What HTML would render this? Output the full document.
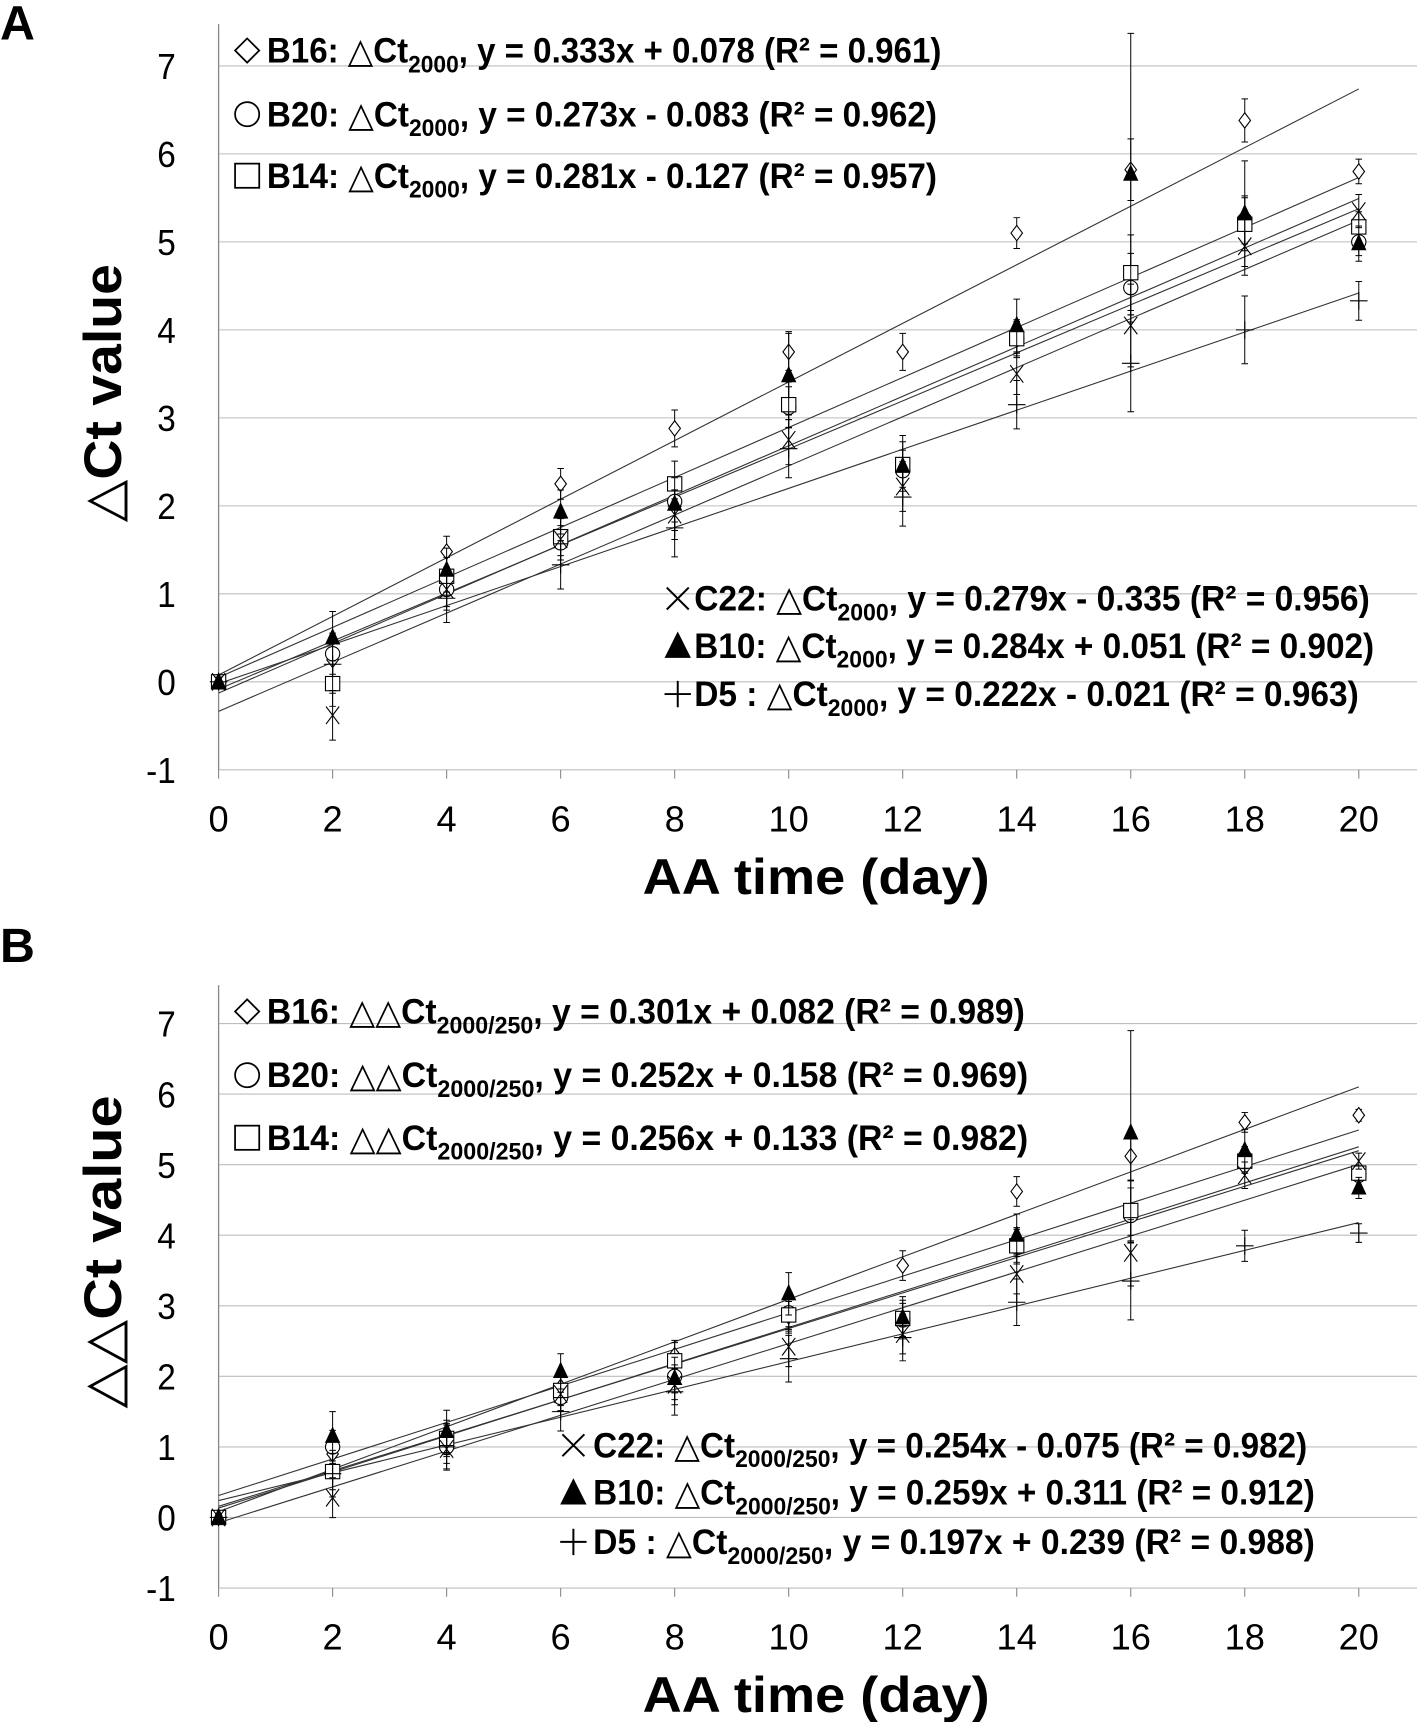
<!DOCTYPE html>
<html><head><meta charset="utf-8"><style>html,body{margin:0;padding:0;background:#fff}svg{display:block}</style></head>
<body>
<svg id="fig" xmlns="http://www.w3.org/2000/svg" width="1417" height="1722" viewBox="0 0 1290 1568" preserveAspectRatio="none" font-family="Liberation Sans, DejaVu Sans, sans-serif"></svg>
<script>
const days = [0,2,4,6,8,10,12,14,16,18,20];
const seriesNames = ["B16","B20","B14","C22","B10","D5"];
const seriesMarkers = ["diamond","circle","square","cross","triangle","plus"];
// Panel A values
const aB16 = [0,0.25,1.48,2.25,2.88,3.75,3.75,5.1,5.82,6.38,5.8];
const aB20 = [0,0.32,1.05,1.58,2.05,3.12,2.4,3.9,4.48,5.25,5.0];
const aB14 = [0,-0.02,1.2,1.65,2.25,3.15,2.47,3.9,4.65,5.2,5.17];
const aC22 = [0,-0.38,1.05,1.62,1.9,2.75,2.22,3.5,4.05,4.95,5.35];
const aB10 = [0,0.5,1.27,1.93,2.02,3.48,2.45,4.05,5.77,5.32,4.98];
const aD5  = [0,0.2,0.95,1.33,1.75,2.65,2.1,3.15,3.62,4.0,4.33];
const aErr = [0.05,0.3,0.25,0.25,0.3,0.3,0.3,0.25,0.5,0.35,0.2];
const aErrB10 = [0.05,0.3,0.25,0.25,0.3,0.5,0.35,0.3,1.6,0.6,0.2];
const aSlopes = [0.333,0.273,0.281,0.279,0.284,0.222];
const aIntercepts = [0.078,-0.083,-0.127,-0.335,0.051,-0.021];
const aLabels = ["B16: △Ct|2000|, y = 0.333x + 0.078 (R² = 0.961)","B20: △Ct|2000|, y = 0.273x - 0.083 (R² = 0.962)","B14: △Ct|2000|, y = 0.281x - 0.127 (R² = 0.957)","C22: △Ct|2000|, y = 0.279x - 0.335 (R² = 0.956)","B10: △Ct|2000|, y = 0.284x + 0.051 (R² = 0.902)","D5 : △Ct|2000|, y = 0.222x - 0.021 (R² = 0.963)"];
// Panel B values
const bB16 = [0,0.9,1.1,1.85,2.3,2.85,3.57,4.62,5.12,5.6,5.7];
const bB20 = [0,1.0,1.0,1.7,2.0,2.9,2.8,3.85,4.28,5.1,4.85];
const bB14 = [0,0.65,1.12,1.8,2.22,2.87,2.82,3.85,4.35,5.05,4.88];
const bC22 = [0,0.28,0.97,1.75,1.88,2.42,2.6,3.45,3.75,4.85,5.05];
const bB10 = [0,1.15,1.22,2.07,1.97,3.17,2.83,4.0,5.45,5.2,4.67];
const bD5  = [0,0.62,1.0,1.5,1.78,2.25,2.55,3.05,3.35,3.85,4.03];
const bErr = [0.05,0.3,0.3,0.25,0.3,0.3,0.3,0.3,0.5,0.2,0.12];
const bErrB10 = [0.05,0.35,0.3,0.25,0.3,0.3,0.3,0.3,1.45,0.3,0.15];
const bSlopes = [0.301,0.252,0.256,0.254,0.259,0.197];
const bIntercepts = [0.082,0.158,0.133,-0.075,0.311,0.239];
const bLabels = ["B16: △△Ct|2000/250|, y = 0.301x + 0.082 (R² = 0.989)","B20: △△Ct|2000/250|, y = 0.252x + 0.158 (R² = 0.969)","B14: △△Ct|2000/250|, y = 0.256x + 0.133 (R² = 0.982)","C22: △Ct|2000/250|, y = 0.254x - 0.075 (R² = 0.982)","B10: △Ct|2000/250|, y = 0.259x + 0.311 (R² = 0.912)","D5  : △Ct|2000/250|, y = 0.197x + 0.239 (R² = 0.988)"];
const yTicks = [-1,0,1,2,3,4,5,6,7];
const xTicks = [0,2,4,6,8,10,12,14,16,18,20];

const NS="http://www.w3.org/2000/svg";
const svg=document.getElementById('fig');
function mk(tag,attrs,parent){const e=document.createElementNS(NS,tag);for(const k in attrs)e.setAttribute(k,attrs[k]);(parent||svg).appendChild(e);return e;}

function marker(g,type,cx,cy){
  let e;
  const s=7;
  if(type==="diamond") e=mk('polygon',{points:`${cx},${cy-s} ${cx+s*0.75},${cy} ${cx},${cy+s} ${cx-s*0.75},${cy}`,fill:'#fff',stroke:'#000','stroke-width':1},g);
  else if(type==="circle") e=mk('circle',{cx:cx,cy:cy,r:6.5,fill:'#fff',stroke:'#000','stroke-width':1},g);
  else if(type==="square") e=mk('rect',{x:cx-6.5,y:cy-6.5,width:13,height:13,fill:'#fff',stroke:'#000','stroke-width':1},g);
  else if(type==="cross") e=mk('path',{d:`M${cx-6},${cy-8}L${cx+6},${cy+8}M${cx+6},${cy-8}L${cx-6},${cy+8}`,stroke:'#000','stroke-width':1,fill:'none'},g);
  else if(type==="triangle") e=mk('polygon',{points:`${cx},${cy-9} ${cx+7},${cy+6} ${cx-7},${cy+6}`,fill:'#000'},g);
  else e=mk('path',{d:`M${cx-8},${cy}L${cx+8},${cy}M${cx},${cy-8}L${cx},${cy+8}`,stroke:'#000','stroke-width':1,fill:'none'},g);
  
  
}

function legendSym(g,type,x,y){
  let e; const s=11;
  if(type==="diamond") e=mk('polygon',{points:`${x},${y-s} ${x+s},${y} ${x},${y+s} ${x-s},${y}`,fill:'#fff',stroke:'#000','stroke-width':1.6},g);
  else if(type==="circle") e=mk('circle',{cx:x,cy:y,r:11,fill:'#fff',stroke:'#000','stroke-width':1.6},g);
  else if(type==="square") e=mk('rect',{x:x-11,y:y-11,width:22,height:22,fill:'#fff',stroke:'#000','stroke-width':1.6},g);
  else if(type==="cross") e=mk('path',{d:`M${x-10},${y-10}L${x+10},${y+10}M${x+10},${y-10}L${x-10},${y+10}`,stroke:'#000','stroke-width':1.8,fill:'none'},g);
  else if(type==="triangle") e=mk('polygon',{points:`${x},${y-13} ${x+12},${y+11} ${x-12},${y+11}`,fill:'#000'},g);
  else e=mk('path',{d:`M${x-12},${y}L${x+12},${y}M${x},${y-12}L${x},${y+12}`,stroke:'#000','stroke-width':1.8,fill:'none'},g);
  
  
}

function legendText(g,label,x,y,w){
  const parts=label.split('|');
  const t=mk('text',{x:x,y:y+11,'font-size':32,'font-weight':'bold',textLength:w,lengthAdjust:'spacingAndGlyphs'},g);
  
  
  const t1=mk('tspan',{},t); t1.textContent=parts[0];
  const t2=mk('tspan',{dy:9,'font-size':22},t); t2.textContent=parts[1];
  const t3=mk('tspan',{dy:-9},t); t3.textContent=parts[2];
}

function panel(cfg){
  const g=mk('g',{});
  
  
  const X=v=>199+(v/20)*(1237-199);
  const Y=v=>cfg.y7+(7-v)*cfg.unit;
  yTicks.forEach(v=>{
    const l=mk('line',{x1:199,x2:1290,y1:Y(v),y2:Y(v),stroke:'#bdbdbd','stroke-width':1},g);
     
    const t=mk('text',{x:160,y:Y(v)+12,'font-size':33,'text-anchor':'end',transform:`translate(${160*0.08},0) scale(0.92,1)`},g);
     
    t.textContent=v;
  });
  const ax=mk('line',{x1:199,x2:199,y1:cfg.top,y2:Y(-1),stroke:'#888','stroke-width':1.2},g);
   
  xTicks.forEach(v=>{
    const tk=mk('line',{x1:X(v),x2:X(v),y1:Y(-1),y2:Y(-1)+8,stroke:'#888','stroke-width':1},g);
     
    const t=mk('text',{x:X(v),y:Y(-1)+56,'font-size':33,'text-anchor':'middle'},g);
     
    t.textContent=v;
  });
  const xt=mk('text',{x:585,y:Y(-1)+113,'font-size':46,'font-weight':'bold',textLength:316,lengthAdjust:'spacingAndGlyphs'},g);
   
  xt.textContent='AA time (day)';
  const yt=mk('text',{x:-cfg.ytitleLen/2,y:0,'font-size':48,'font-weight':'bold',textLength:cfg.ytitleLen,lengthAdjust:'spacingAndGlyphs',transform:`translate(110,${cfg.ytitleY}) rotate(-90)`},g);
   
  yt.textContent=cfg.ytitle;
  const pl=mk('text',{x:0,y:cfg.letterY,'font-size':44,'font-weight':'bold'},g);
   
  pl.textContent=cfg.letter;
  cfg.slopes.forEach((m,i)=>{
    const b=cfg.intercepts[i];
    const l=mk('line',{x1:X(0),y1:Y(b),x2:X(20),y2:Y(b+m*20),stroke:'#333','stroke-width':1},g);
     
  });
  cfg.data.forEach((arr,i)=>{
    const sg=mk('g',{},g);
     
    const errs = i===4 ? cfg.errB10 : cfg.err;
    arr.forEach((v,j)=>{
      const e=errs[j]*(i===4?1:(0.7+0.08*i));
      const x=X(days[j]);
      const eb=mk('path',{d:`M${x},${Y(v+e)}L${x},${Y(v-e)}M${x-3},${Y(v+e)}L${x+3},${Y(v+e)}M${x-3},${Y(v-e)}L${x+3},${Y(v-e)}`,stroke:'#000','stroke-width':0.9,fill:'none'},sg);
       
      marker(sg,seriesMarkers[i],x,Y(v));
    });
  });
  const lg=mk('g',{},g);
   
  cfg.labels.forEach((lab,i)=>{
    const L=cfg.leg[i];
    legendSym(lg,seriesMarkers[i],L[0],L[1]);
    legendText(lg,lab,L[2],L[1],L[3]);
  });
}

panel({name:'panel-a',letter:'A',letterY:36,y7:60,unit:(701-60)/8,top:22,ytitle:'△Ct value',ytitleY:358,ytitleLen:235,
  data:[aB16,aB20,aB14,aC22,aB10,aD5],err:aErr,errB10:aErrB10,slopes:aSlopes,intercepts:aIntercepts,labels:aLabels,
  leg:[[225,46,243,614],[225,104,243,610],[225,160,243,610],[617,545,632,615],[617,588,632,619],[617,632,632,605]]});
panel({name:'panel-b',letter:'B',letterY:876,y7:932,unit:(1446-932)/8,top:897,ytitle:'△△Ct value',ytitleY:1140,ytitleLen:285,
  data:[bB16,bB20,bB14,bC22,bB10,bD5],err:bErr,errB10:bErrB10,slopes:bSlopes,intercepts:bIntercepts,labels:bLabels,
  leg:[[225,921,243,690],[225,979,243,693],[225,1036,243,693],[522,1316,540,650],[522,1359,540,657],[522,1404,540,657]]});
</script>
</body></html>
